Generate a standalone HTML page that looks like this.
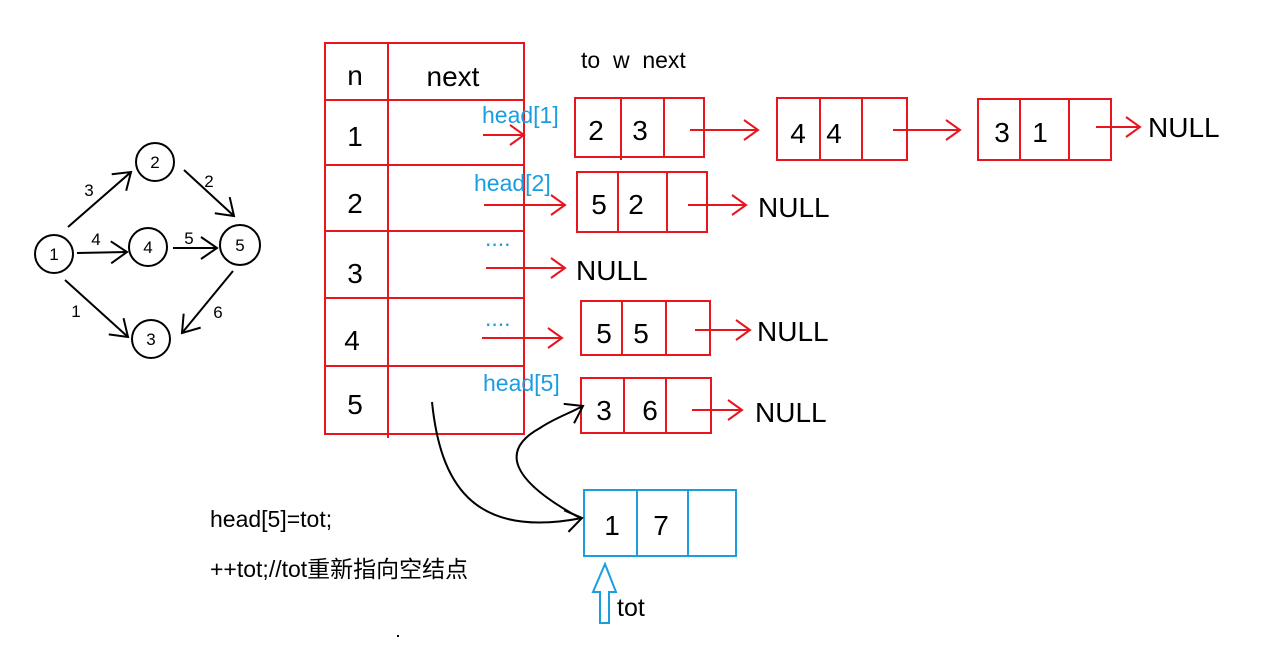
<!DOCTYPE html>
<html><head><meta charset="utf-8"><style>
body{margin:0;background:#fff;width:1286px;height:645px;overflow:hidden}
text{font-family:"Liberation Sans","Noto Sans CJK SC",sans-serif}
</style></head><body>
<svg width="1286" height="645" viewBox="0 0 1286 645" xmlns="http://www.w3.org/2000/svg">
<defs>
<marker id="r" markerWidth="20" markerHeight="24" refX="16" refY="12" orient="auto" markerUnits="userSpaceOnUse"><path d="M2,2 L16,12 L2,22" fill="none" stroke="#e8141e" stroke-width="2"/></marker>
<marker id="k" markerWidth="24" markerHeight="26" refX="18" refY="13" orient="auto" markerUnits="userSpaceOnUse"><path d="M2,2 L18,13 L2,24" fill="none" stroke="#000" stroke-width="2"/></marker>
</defs>
<!-- graph -->
<g fill="none" stroke="#000" stroke-width="2">
<circle cx="54" cy="254" r="19"/><circle cx="155" cy="162" r="19"/><circle cx="148" cy="247" r="19"/>
<circle cx="240" cy="245" r="20"/><circle cx="151" cy="339" r="19"/>
<line x1="68" y1="227" x2="131" y2="172" marker-end="url(#k)"/>
<line x1="184" y1="170" x2="234" y2="216" marker-end="url(#k)"/>
<line x1="77" y1="253" x2="127" y2="252" marker-end="url(#k)"/>
<line x1="173" y1="248" x2="217" y2="248" marker-end="url(#k)"/>
<line x1="65" y1="280" x2="128" y2="337" marker-end="url(#k)"/>
<line x1="233" y1="271" x2="182" y2="333" marker-end="url(#k)"/>
</g>
<g font-size="17" fill="#000" text-anchor="middle">
<text x="54" y="260">1</text><text x="155" y="168">2</text><text x="148" y="253">4</text><text x="240" y="251">5</text><text x="151" y="345">3</text>
<text x="89" y="196">3</text><text x="209" y="187">2</text><text x="96" y="245">4</text><text x="189" y="244">5</text><text x="76" y="317">1</text><text x="218" y="318">6</text>
</g>
<!-- table -->
<g fill="none" stroke="#e8141e" stroke-width="2">
<rect x="325" y="43" width="199" height="391"/>
<line x1="388" y1="43" x2="388" y2="438"/>
<line x1="325" y1="100" x2="524" y2="100"/><line x1="325" y1="165" x2="524" y2="165"/>
<line x1="325" y1="231" x2="524" y2="231"/><line x1="325" y1="298" x2="524" y2="298"/>
<line x1="325" y1="366" x2="524" y2="366"/>
<rect x="575" y="98" width="129" height="59"/><line x1="621" y1="98" x2="621" y2="160"/><line x1="664" y1="98" x2="664" y2="157"/>
<rect x="777" y="98" width="130" height="62"/><line x1="820" y1="98" x2="820" y2="160"/><line x1="862" y1="98" x2="862" y2="160"/>
<rect x="978" y="99" width="133" height="61"/><line x1="1020" y1="99" x2="1020" y2="160"/><line x1="1069" y1="99" x2="1069" y2="160"/>
<rect x="577" y="172" width="130" height="60"/><line x1="618" y1="172" x2="618" y2="232"/><line x1="667" y1="172" x2="667" y2="232"/>
<rect x="581" y="301" width="129" height="54"/><line x1="622" y1="301" x2="622" y2="355"/><line x1="666" y1="301" x2="666" y2="355"/>
<rect x="581" y="378" width="130" height="55"/><line x1="624" y1="378" x2="624" y2="433"/><line x1="666" y1="378" x2="666" y2="433"/>
<line x1="483" y1="135" x2="524" y2="135" marker-end="url(#r)"/>
<line x1="690" y1="130" x2="758" y2="130" marker-end="url(#r)"/>
<line x1="893" y1="130" x2="960" y2="130" marker-end="url(#r)"/>
<line x1="1096" y1="127" x2="1140" y2="127" marker-end="url(#r)"/>
<line x1="484" y1="205" x2="565" y2="205" marker-end="url(#r)"/>
<line x1="688" y1="205" x2="746" y2="205" marker-end="url(#r)"/>
<line x1="486" y1="268" x2="565" y2="268" marker-end="url(#r)"/>
<line x1="482" y1="338" x2="562" y2="338" marker-end="url(#r)"/>
<line x1="695" y1="330" x2="750" y2="330" marker-end="url(#r)"/>
<line x1="692" y1="410" x2="742" y2="410" marker-end="url(#r)"/>
</g>
<g font-size="28" fill="#000" text-anchor="middle">
<text x="355" y="85">n</text><text x="453" y="86">next</text>
<text x="355" y="146">1</text><text x="355" y="213">2</text><text x="355" y="283">3</text><text x="352" y="350">4</text><text x="355" y="414">5</text>
<text x="596" y="140">2</text><text x="640" y="140">3</text>
<text x="798" y="143">4</text><text x="834" y="143">4</text>
<text x="1002" y="142">3</text><text x="1040" y="142">1</text>
<text x="599" y="214">5</text><text x="636" y="214">2</text>
<text x="604" y="343">5</text><text x="641" y="343">5</text>
<text x="604" y="420">3</text><text x="650" y="420">6</text>
<text x="612" y="535">1</text><text x="661" y="535">7</text>
</g>
<g font-size="28" fill="#000">
<text x="1148" y="137">NULL</text><text x="758" y="217">NULL</text><text x="576" y="280">NULL</text>
<text x="757" y="341">NULL</text><text x="755" y="422">NULL</text>
</g>
<text x="581" y="68" font-size="23" fill="#000" xml:space="preserve">to  w  next</text>
<g font-size="23" fill="#1a9ee0">
<text x="482" y="123">head[1]</text><text x="474" y="191">head[2]</text>
<text x="485" y="246">....</text><text x="485" y="326">....</text><text x="483" y="391">head[5]</text>
</g>
<!-- blue node -->
<g fill="none" stroke="#1a9ee0" stroke-width="2">
<rect x="584" y="490" width="152" height="66"/><line x1="637" y1="490" x2="637" y2="556"/><line x1="688" y1="490" x2="688" y2="556"/>
<path d="M600,623 L600,592 L593,592 L605,564 L616,592 L609,592 L609,623 Z"/>
</g>
<text x="617" y="616" font-size="25" fill="#000">tot</text>
<!-- curves -->
<g fill="none" stroke="#000" stroke-width="2">
<path d="M432,402 C440,480 470,540 582,518" marker-end="url(#k)"/>
<path d="M580,518 C510,480 500,450 540,428 C555,418 568,414 583,406" marker-end="url(#k)"/>
</g>
<g font-size="23" fill="#000">
<text x="210" y="527">head[5]=tot;</text>
<text x="210" y="577">++tot;//tot重新指向空结点</text>
</g>
<rect x="397" y="635" width="2" height="2" fill="#000"/>
</svg>
</body></html>
